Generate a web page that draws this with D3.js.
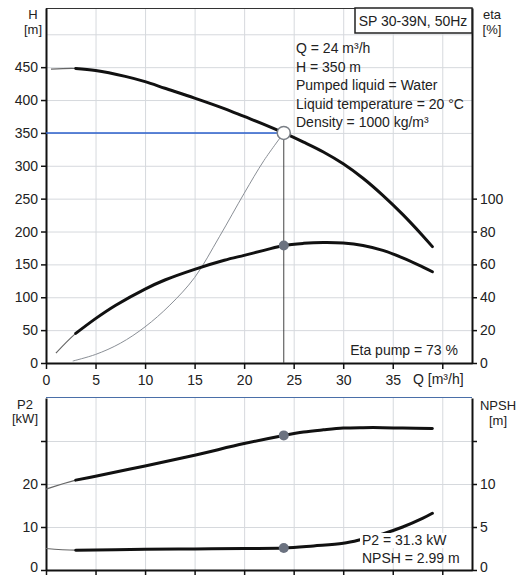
<!DOCTYPE html>
<html>
<head>
<meta charset="utf-8">
<script src="https://cdn.jsdelivr.net/npm/d3@7"></script>
<style>
  body { margin: 0; background: #fff; }
  svg { display: block; font-family: "Liberation Sans", Arial, sans-serif; }
  .tick text { font-size: 14px; fill: #222; }
</style>
</head>
<body>
<svg id="chart" width="522" height="575"></svg>
<script>
// Duty point
const dutyQ = 24, dutyH = 350, dutyEta = 71.5, dutyP2 = 31.3, dutyNpsh = 2.55;

// Pump curve H(Q)
const hQ = [0.5, 3, 5, 8, 10, 12, 15, 18, 20, 22, 24, 26, 28, 30, 32, 34, 36, 38, 39];
const hVal = [447, 448, 445, 436, 428, 418, 403, 387, 375, 363, 350, 336, 321, 303, 281, 255, 226, 194, 177];

// Efficiency eta(Q)
const etaQ = [1, 3, 5, 7, 10, 12, 15, 18, 20, 22, 24, 26, 28, 30, 32, 34, 36, 38, 39];
const etaVal = [6, 18, 27, 35, 45, 50.5, 57, 62.5, 65.5, 68.5, 71.5, 72.8, 73.3, 73, 71.5, 68.5, 64, 58.5, 55.5];

// System curve through duty point
const sysQ = [2.7, 5, 7.5, 10, 12.5, 15, 17.5, 20, 22, 24];
const sysVal = [3, 13, 30, 55, 88, 130, 192, 258, 308, 350];

// Power P2(Q) and NPSH(Q)
const p2Q = [0, 3, 5, 10, 15, 20, 24, 26, 28, 30, 32, 34, 36, 39];
const p2Val = [18.8, 20.9, 21.8, 24.2, 26.7, 29.4, 31.3, 32.1, 32.6, 33, 33.1, 33.1, 33, 32.9];
const npshQ = [0, 3, 10, 15, 20, 24, 27, 30, 32, 34, 36, 38, 39];
const npshVal = [2.5, 2.3, 2.4, 2.45, 2.5, 2.55, 2.8, 3.1, 3.6, 4.2, 5.0, 6.0, 6.6];

// Ticks
const qTicks = [0, 5, 10, 15, 20, 25, 30, 35, 40];
const hTicks = [0, 50, 100, 150, 200, 250, 300, 350, 400, 450];
const etaTicks = [0, 20, 40, 60, 80, 100];
const p2Ticks = [0, 10, 20, 30];
const npshTicks = [0, 5, 10, 15];

const thickFrom = 3; // curves are thin below this flow

const svg = d3.select("#chart");
const left = 46, right = 472;

const x = d3.scaleLinear().domain([0, 43]).range([left, right]);
const yH = d3.scaleLinear().domain([0, 540]).range([363, 8]);
const yEta = d3.scaleLinear().domain([0, 216]).range([363, 8]);
const yP2 = d3.scaleLinear().domain([0, 40]).range([570, 398]);
const yNpsh = d3.scaleLinear().domain([0, 20]).range([570, 398]);

const zip = (qs, vs) => qs.map((q, i) => ({q, v: vs[i]}));

// Grid
function grid(y, hVals, top, bottom) {
  const g = svg.append("g").attr("stroke", "#d6d9dd").attr("stroke-width", 1);
  g.selectAll("line.h").data(hVals).join("line")
    .attr("x1", left).attr("x2", right)
    .attr("y1", d => y(d) + 0.5).attr("y2", d => y(d) + 0.5);
  g.selectAll("line.v").data(qTicks.slice(1)).join("line")
    .attr("x1", d => x(d) + 0.5).attr("x2", d => x(d) + 0.5)
    .attr("y1", top).attr("y2", bottom);
}
grid(yH, d3.range(50, 501, 50), 8, 363);
grid(yP2, [10, 20, 30], 398, 570);

// Frames
svg.append("line").attr("x1", left).attr("x2", right).attr("y1", 8.5).attr("y2", 8.5)
  .attr("stroke", "#333").attr("stroke-width", 1);
svg.append("line").attr("x1", left).attr("x2", right).attr("y1", 397.5).attr("y2", 397.5)
  .attr("stroke", "#4a6fa8").attr("stroke-width", 1);

// Axes
function styleAxis(g) {
  g.select(".domain").attr("stroke", "#111").attr("stroke-width", 2);
  g.selectAll(".tick line").attr("stroke", "#111").attr("stroke-width", 1.5);
}
svg.append("g").attr("transform", "translate(0,363)")
  .call(d3.axisBottom(x).tickValues(qTicks).tickSize(6).tickSizeOuter(0)
    .tickFormat(d => d === 40 ? "" : d))
  .call(styleAxis)
  .call(g => g.selectAll(".tick text").attr("dy", "0.95em"));
svg.append("g").attr("transform", `translate(${left},0)`)
  .call(d3.axisLeft(yH).tickValues(hTicks).tickSize(5).tickSizeOuter(0))
  .call(styleAxis);
svg.append("g").attr("transform", `translate(${right},0)`)
  .call(d3.axisRight(yEta).tickValues(etaTicks).tickSize(5).tickSizeOuter(0))
  .call(styleAxis);

svg.append("g").attr("transform", "translate(0,570)")
  .call(d3.axisBottom(x).tickValues(qTicks).tickSize(6).tickSizeOuter(0).tickFormat(""))
  .call(styleAxis);
svg.append("g").attr("transform", `translate(${left},0)`)
  .call(d3.axisLeft(yP2).tickValues(p2Ticks).tickSize(5).tickSizeOuter(0)
    .tickFormat(d => d === 30 ? "" : d))
  .call(styleAxis)
  .call(g => g.selectAll(".tick text").attr("dy", d => d === 0 ? "0.1em" : "0.32em"));
svg.append("g").attr("transform", `translate(${right},0)`)
  .call(d3.axisRight(yNpsh).tickValues(npshTicks).tickSize(5).tickSizeOuter(0)
    .tickFormat(d => d === 15 ? "" : d))
  .call(styleAxis)
  .call(g => g.selectAll(".tick text").attr("dy", d => d === 0 ? "0.1em" : "0.32em"));

// Curve helper: thin leader below thickFrom, thick above
const smooth = d3.curveCatmullRom.alpha(0.5);
function curve(data, y) {
  const line = d3.line().x(d => x(d.q)).y(d => y(d.v)).curve(smooth);
  svg.append("path").attr("d", line(data))
    .attr("fill", "none").attr("stroke", "#666").attr("stroke-width", 1.2);
  svg.append("path").attr("d", line(data.filter(d => d.q >= thickFrom)))
    .attr("fill", "none").attr("stroke", "#111").attr("stroke-width", 3)
    .attr("stroke-linecap", "round");
}

// System curve
svg.append("path")
  .attr("d", d3.line().x(d => x(d.q)).y(d => yH(d.v)).curve(smooth)(zip(sysQ, sysVal)))
  .attr("fill", "none").attr("stroke", "#8a8f96").attr("stroke-width", 1);

// Duty lines
svg.append("line").attr("x1", left).attr("x2", x(dutyQ))
  .attr("y1", yH(dutyH)).attr("y2", yH(dutyH))
  .attr("stroke", "#2a5fcc").attr("stroke-width", 1.5);
svg.append("line").attr("x1", x(dutyQ)).attr("x2", x(dutyQ))
  .attr("y1", yH(dutyH)).attr("y2", 363)
  .attr("stroke", "#444").attr("stroke-width", 1);

curve(zip(hQ, hVal), yH);
curve(zip(etaQ, etaVal), yEta);
curve(zip(p2Q, p2Val), yP2);
curve(zip(npshQ, npshVal), yNpsh);

// Duty markers
svg.append("circle").attr("cx", x(dutyQ)).attr("cy", yH(dutyH)).attr("r", 6.5)
  .attr("fill", "#fff").attr("stroke", "#7a7f86").attr("stroke-width", 1.5);
[[yEta, dutyEta], [yP2, dutyP2], [yNpsh, dutyNpsh]].forEach(([y, v]) => {
  svg.append("circle").attr("cx", x(dutyQ)).attr("cy", y(v)).attr("r", 5)
    .attr("fill", "#6b7280");
});

// Titles
function label(tx, ty, str, anchor = "middle", size = 13) {
  return svg.append("text").attr("x", tx).attr("y", ty).attr("text-anchor", anchor)
    .style("font-size", size + "px").attr("fill", "#222").text(str);
}
label(33, 19, "H"); label(33, 34, "[m]");
label(492, 19, "eta"); label(492, 34, "[%]");
label(25, 409, "P2"); label(25, 423, "[kW]");
label(498, 410, "NPSH"); label(498, 425, "[m]");
label(413, 384, "Q [m³/h]", "start", 14);

// Pump name box
svg.append("rect").attr("x", 355).attr("y", 8).attr("width", 117).attr("height", 25)
  .attr("fill", "#fff").attr("stroke", "#222").attr("stroke-width", 1.5);
label(413, 26, "SP 30-39N, 50Hz", "middle", 14);

// Duty info
const info = ["Q = 24 m³/h", "H = 350 m", "Pumped liquid = Water",
  "Liquid temperature = 20 °C", "Density = 1000 kg/m³"];
info.forEach((t, i) => label(296, 53 + i * 18.5, t, "start", 14));

label(458, 355, "Eta pump = 73 %", "end", 14);

// P2 / NPSH readout
svg.append("rect").attr("x", 360).attr("y", 533).attr("width", 86).attr("height", 15).attr("fill", "#fff");
label(362, 545, "P2 = 31.3 kW", "start", 14);
label(362, 563, "NPSH = 2.99 m", "start", 14);
</script>
</body>
</html>
